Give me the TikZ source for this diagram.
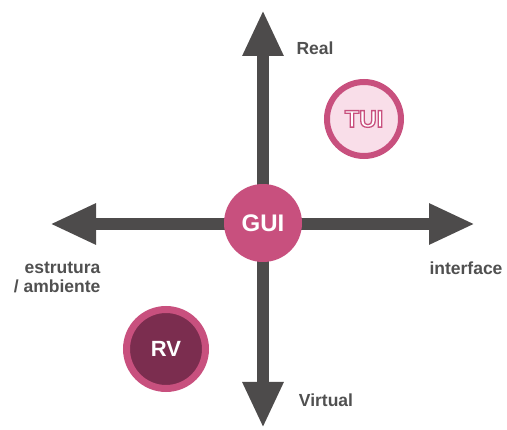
\documentclass[tikz,border=0pt]{standalone}
\usepackage{fontspec}
\setmainfont{Liberation Sans}
\usetikzlibrary{arrows.meta}

\definecolor{axisgray}{HTML}{4D4B4B}
\definecolor{labelgray}{HTML}{505050}
\definecolor{magenta}{HTML}{C8507E}
\definecolor{palepink}{HTML}{F9DEE9}
\definecolor{plum}{HTML}{7B2D4F}

% outlined lettering: white fill, magenta stroke (text render mode 2)
\newcommand{\outlinetext}[1]{%
  \textcolor{white}{\special{pdf:literal direct 2 Tr 1.3 w 0.784 0.314 0.494 RG}#1%
  \special{pdf:literal direct 0 Tr}}}

\tikzset{
  axis/.style={draw=axisgray, line width=12pt,
    -{Triangle[length=46pt,width=38pt]}},
  axislabel/.style={text=labelgray, font=\fontsize{17.5}{19}\selectfont\bfseries},
  guibubble/.style={circle, fill=magenta, minimum size=78pt, inner sep=0pt,
    text=white, font=\fontsize{24}{24}\selectfont\bfseries},
  tuibubble/.style={circle, fill=palepink, draw=magenta, line width=6pt,
    minimum size=74pt, inner sep=0pt, font=\fontsize{24}{24}\selectfont\bfseries},
  rvbubble/.style={circle, fill=plum, draw=magenta, line width=7pt,
    minimum size=79pt, inner sep=0pt, text=white,
    font=\fontsize{22}{22}\selectfont\bfseries}
}

\begin{document}
\begin{tikzpicture}[x=1pt, y=-1pt]
  \useasboundingbox (0,0) rectangle (507,430);

  % axis end points
  \coordinate (up)    at (263,10);
  \coordinate (down)  at (263,428);
  \coordinate (left)  at (50,224);
  \coordinate (right) at (475,224);
  \coordinate (origin) at (263,224);

  % the four axes
  \draw[axis] (origin) -- (up);
  \draw[axis] (origin) -- (down);
  \draw[axis] (origin) -- (left);
  \draw[axis] (origin) -- (right);

  % bubbles
  \node[guibubble] (gui) at (263,223) {GUI};
  \node[tuibubble] (tui) at (364,119) {\outlinetext{TUI}};
  \node[rvbubble] (rv) at (166,349) {RV};

  % axis labels
  \node[axislabel] (real) at (315,48) {Real};
  \node[axislabel] (virtual) at (326,400) {Virtual};
  \node[axislabel] (interface) at (466,268) {interface};
  \node[axislabel, align=right, anchor=north east] (estrutura) at (104,259)
    {estrutura\\/ ambiente};
\end{tikzpicture}
\end{document}
